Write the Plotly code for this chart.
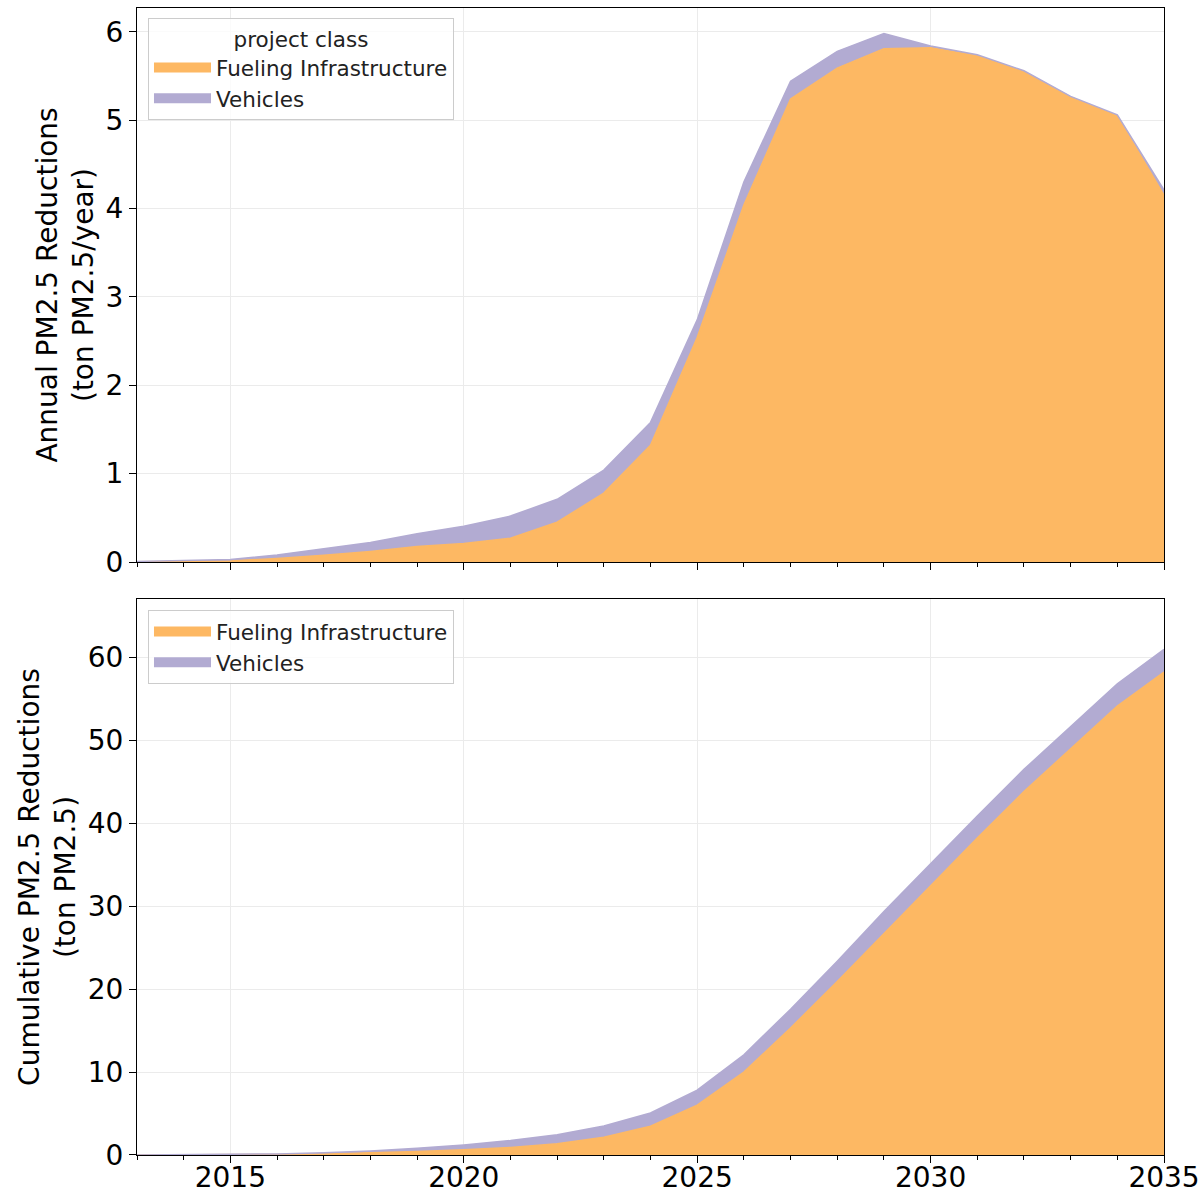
import plotly.graph_objects as go

years = list(range(2013, 2036))

# Annual PM2.5 reductions (ton/year)
annual_fueling = [0.002, 0.005, 0.012, 0.04, 0.075, 0.12, 0.175, 0.21, 0.27, 0.45, 0.78, 1.32,
                  2.54, 4.04, 5.24, 5.59, 5.81, 5.82, 5.73, 5.55, 5.26, 5.05, 4.15]
annual_vehicles = [0.005, 0.008, 0.015, 0.04, 0.075, 0.10, 0.145, 0.195, 0.25, 0.26, 0.26, 0.26,
                   0.20, 0.26, 0.20, 0.19, 0.17, 0.02, 0.01, 0.01, 0.01, 0.01, 0.06]

# Cumulative PM2.5 reductions (ton)
cum_fueling = [0.002, 0.007, 0.02, 0.06, 0.13, 0.25, 0.43, 0.64, 0.91, 1.36, 2.14, 3.46,
               6.0, 10.0, 15.3, 20.9, 26.7, 32.5, 38.2, 43.8, 49.0, 54.1, 58.2]
cum_vehicles = [0.005, 0.013, 0.028, 0.07, 0.14, 0.24, 0.39, 0.58, 0.83, 1.09, 1.35, 1.61,
                1.81, 2.07, 2.27, 2.46, 2.63, 2.65, 2.66, 2.67, 2.68, 2.69, 2.75]

series_names = ["Fueling Infrastructure", "Vehicles"]
colors = ["#fdb863", "#b2abd2"]

FONT = "DejaVu Sans"
fig = go.Figure()

for name, vals, col in zip(series_names, [annual_fueling, annual_vehicles], colors):
    fig.add_trace(go.Scatter(x=years, y=vals, name=name, stackgroup="a", mode="lines",
                             line=dict(color=col, width=1.5), fillcolor=col,
                             xaxis="x", yaxis="y", showlegend=False))
for name, vals, col in zip(series_names, [cum_fueling, cum_vehicles], colors):
    fig.add_trace(go.Scatter(x=years, y=vals, name=name, stackgroup="b", mode="lines",
                             line=dict(color=col, width=1.5), fillcolor=col,
                             xaxis="x2", yaxis="y2", showlegend=False))

# legend entries (patch-like keys)
for lg, ax, ay in [("legend", "x", "y"), ("legend2", "x2", "y2")]:
    for name, col in zip(series_names, colors):
        fig.add_trace(go.Scatter(x=[None], y=[None], name=name, mode="lines",
                                 line=dict(color=col, width=16),
                                 xaxis=ax, yaxis=ay, legend=lg, hoverinfo="skip"))

xcommon = dict(range=[2013, 2035], tickvals=[2015, 2020, 2025, 2030, 2035],
               showline=True, linecolor="black", linewidth=1, mirror=True,
               ticks="outside", ticklen=7, tickwidth=1, tickcolor="black",
               showgrid=True, gridcolor="#ebebeb", gridwidth=1, zeroline=False,
               automargin=False, ticklabeloverflow="allow", ticklabelstandoff=-10,
               minor=dict(tickvals=years, ticks="outside", ticklen=4, tickwidth=1,
                          tickcolor="black", showgrid=False),
               tickfont=dict(family=FONT, size=28, color="black"))
ycommon = dict(showline=True, linecolor="black", linewidth=1, mirror=True,
               ticks="outside", ticklen=7, tickwidth=1, tickcolor="black",
               showgrid=True, gridcolor="#ebebeb", gridwidth=1, zeroline=False,
               automargin=False,
               tickfont=dict(family=FONT, size=28, color="black"))

legend_common = dict(xanchor="left", yanchor="top",
                     bgcolor="rgba(255,255,255,0.8)", bordercolor="#cccccc", borderwidth=1,
                     font=dict(family=FONT, size=21.5, color="#222"),
                     traceorder="normal", itemwidth=57, tracegroupgap=0)

fig.update_layout(
    width=1204, height=1194,
    margin=dict(l=137, r=40, t=8, b=39),
    paper_bgcolor="white", plot_bgcolor="white",
    font=dict(family=FONT, color="black"),
    xaxis=dict(**xcommon, domain=[0, 1], anchor="y", showticklabels=False),
    yaxis=dict(**ycommon, domain=[0.517, 1], anchor="x", range=[0, 6.27],
               tickvals=[0, 1, 2, 3, 4, 5, 6],
               title=dict(text="Annual PM2.5 Reductions<br>(ton PM2.5/year)", standoff=3,
                          font=dict(family=FONT, size=28, color="black"))),
    xaxis2=dict(**xcommon, domain=[0, 1], anchor="y2", matches="x"),
    yaxis2=dict(**ycommon, domain=[0, 0.4847], anchor="x2", range=[0, 67],
                tickvals=[0, 10, 20, 30, 40, 50, 60],
                title=dict(text="Cumulative PM2.5 Reductions<br>(ton PM2.5)", standoff=3,
                           font=dict(family=FONT, size=28, color="black"))),
    legend=dict(**legend_common, x=0.0107, y=0.9913,
                title=dict(text="project class", side="top center",
                           font=dict(family=FONT, size=21.5, color="#222"))),
    legend2=dict(**legend_common, x=0.0107, y=0.4752),
)

fig.write_html("out.html", config={"displayModeBar": False},
               post_script="document.body.style.margin='0';document.body.style.overflow='hidden';")
